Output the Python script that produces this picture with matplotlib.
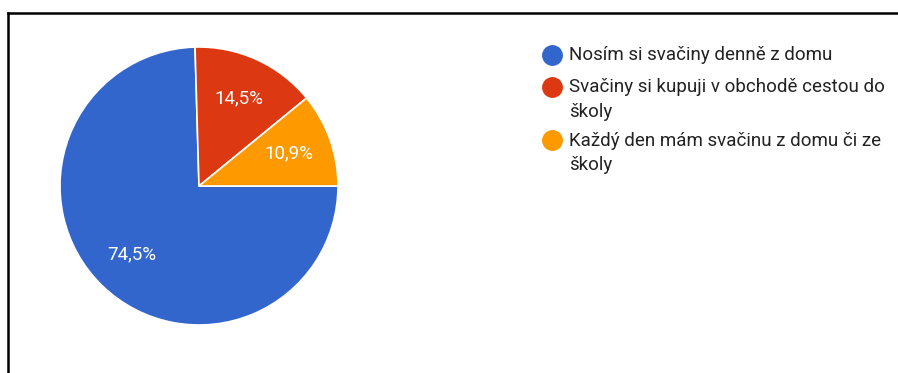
import matplotlib.pyplot as plt
from matplotlib.lines import Line2D

plt.rcParams['font.family'] = ['Roboto', 'DejaVu Sans']

# Survey answers (count of respondents)
labels = ['Nosím si svačiny denně z domu',
          'Svačiny si kupuji v obchodě cestou do\nškoly',
          'Každý den mám svačinu z domu či ze\nškoly']
counts = [41, 8, 6]
colors = ['#3366cc', '#dc3912', '#ff9900']

W, H = 898, 373
fig = plt.figure(figsize=(W / 100, H / 100), dpi=100)

# pie centred at (199, 186) px, radius ~139 px
r = 139
ax = fig.add_axes([(199 - r) / W, (H - 186 - r) / H, 2 * r / W, 2 * r / H])
wedges, texts, autotexts = ax.pie(
    counts, colors=colors, startangle=0, counterclock=False, radius=1.0,
    autopct=lambda p: ('%.1f%%' % p).replace('.', ','), pctdistance=0.69,
    wedgeprops=dict(edgecolor='white', linewidth=1.2),
    textprops=dict(color='white', fontsize=13.5))
ax.set_xlim(-1, 1)
ax.set_ylim(-1, 1)
ax.set_aspect('auto')
ax.axis('off')

# legend drawn by hand so the wrapped labels line up
row_y = [55, 87, 140]
for y, lab, col in zip(row_y, labels, colors):
    fig.add_artist(Line2D([552 / W], [1 - y / H], marker='o', markersize=14,
                          color=col, linestyle='none'))
    fig.text(569 / W, 1 - (y - 8.5) / H, lab, fontsize=13.5, color='#222222',
             va='top', ha='left', linespacing=1.48)

# frame (top and left edges)
fig.add_artist(Line2D([8 / W, 1], [1 - 13 / H, 1 - 13 / H], color='black', lw=1.8))
fig.add_artist(Line2D([8 / W, 8 / W], [0, 1 - 13 / H], color='black', lw=1.8))

fig.savefig('out.png', dpi=100)
